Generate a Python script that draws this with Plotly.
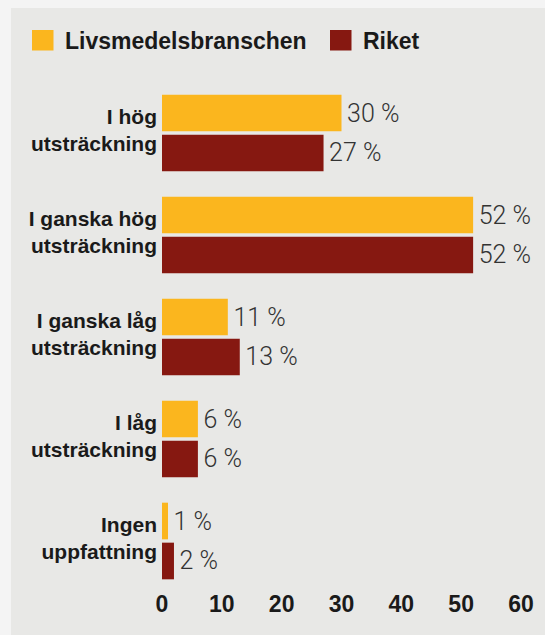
import plotly.graph_objects as go

# Survey answers, top to bottom
categories = [
    "I hög<br>utsträckning",
    "I ganska hög<br>utsträckning",
    "I ganska låg<br>utsträckning",
    "I låg<br>utsträckning",
    "Ingen<br>uppfattning",
]
livsmedel = [30, 52, 11, 6, 1]
riket = [27, 52, 13, 6, 2]
series_names = ["Livsmedelsbranschen", "Riket"]
series_colors = ["#FBB61E", "#861811"]
x_ticks = [0, 10, 20, 30, 40, 50, 60]

W, H = 545, 635
ML, MR, MT, MB = 162, 24, 82, 43
PW = W - ML - MR
PH = H - MT - MB

PANEL = "#E8E8E6"
OUTER = "#F4F4F4"
BOLD = "Liberation Sans, Arial, sans-serif"
LIGHT = "Roboto, Liberation Sans, sans-serif"


def px_x(px):
    return (px - ML) / PW


def px_y(py):
    return 1 - (py - MT) / PH


fig = go.Figure()
for name, vals, col in zip(series_names, [livsmedel, riket], series_colors):
    fig.add_trace(go.Bar(
        y=categories, x=vals, orientation="h", name=name,
        marker=dict(color=col, line=dict(width=0)),
        text=vals, texttemplate="\u200a%{x} %", textposition="outside",
        textfont=dict(family=LIGHT, size=25, color="#333333", weight=300),
        constraintext="none", cliponaxis=False, showlegend=False,
    ))

shapes = [
    # grey panel behind the chart
    dict(type="rect", xref="paper", yref="paper", layer="below",
         x0=px_x(11), x1=px_x(W + 5), y0=px_y(H + 5), y1=px_y(8),
         fillcolor=PANEL, line=dict(width=0)),
]
annotations = []

# hand-drawn legend: coloured square + bold name
legend_left = [32, 330]
for left, name, col in zip(legend_left, series_names, series_colors):
    shapes.append(dict(type="rect", xref="paper", yref="paper",
                       x0=px_x(left), x1=px_x(left + 21.5),
                       y0=px_y(50.5), y1=px_y(30),
                       fillcolor=col, line=dict(width=0)))
    annotations.append(dict(xref="paper", yref="paper", x=px_x(left + 31),
                            y=px_y(40.5), xanchor="left", yanchor="middle",
                            text=name, showarrow=False,
                            font=dict(family=BOLD, size=23, color="#1a1a1a",
                                      weight="bold")))

fig.update_layout(
    template="none",
    width=W, height=H,
    margin=dict(l=ML, r=MR, t=MT, b=MB, pad=0),
    paper_bgcolor=OUTER, plot_bgcolor="rgba(0,0,0,0)",
    barmode="group", bargap=0.216, bargroupgap=0.083,
    shapes=shapes, annotations=annotations,
    xaxis=dict(range=[0, 60], tickvals=x_ticks, ticks="", showgrid=False,
               zeroline=False, showline=False, automargin=False,
               ticklabelstandoff=-4,
               tickfont=dict(family=BOLD, size=23, color="#1a1a1a",
                             weight="bold")),
    yaxis=dict(autorange="reversed", ticks="", showgrid=False,
               zeroline=False, showline=False, automargin=False,
               ticklabelstandoff=4, ticklabelshift=3,
               tickfont=dict(family=BOLD, size=21, color="#1a1a1a",
                             weight="bold")),
)

fig.write_html("out.html")
